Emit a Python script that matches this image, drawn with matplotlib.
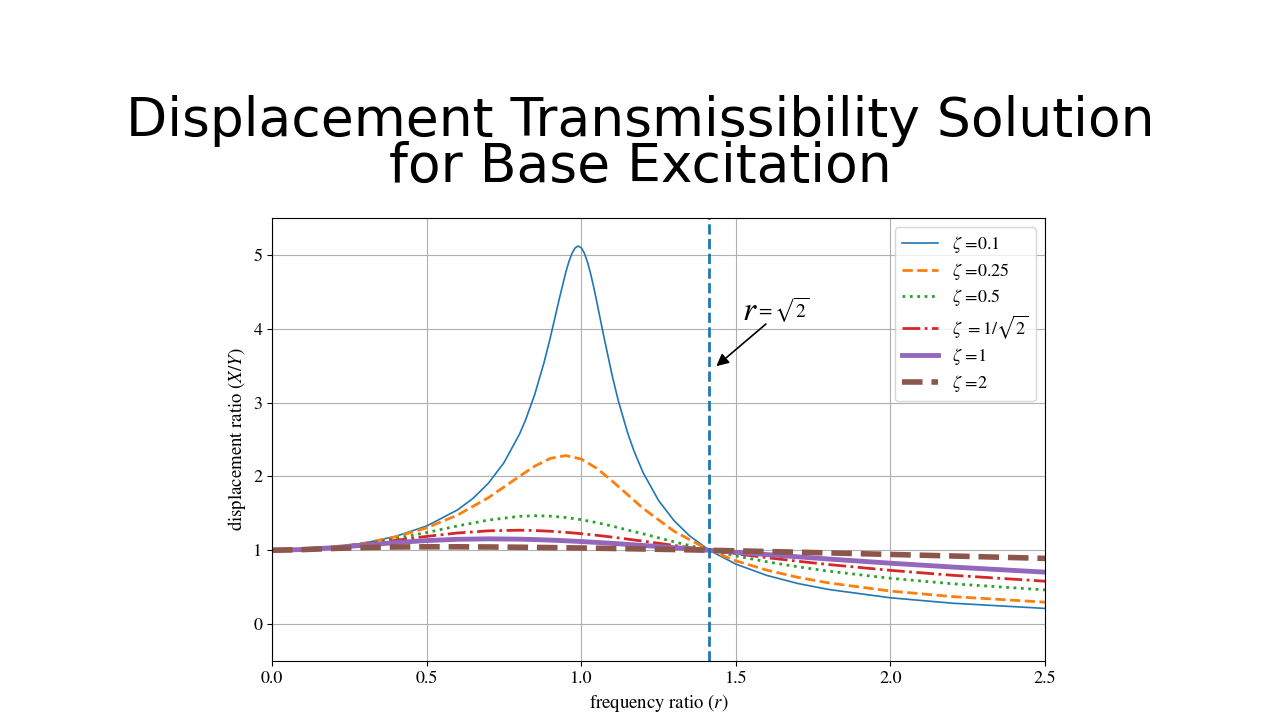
import matplotlib
matplotlib.use("Agg")
import matplotlib.pyplot as plt

plt.rcParams['font.family'] = 'STIXGeneral'
plt.rcParams['mathtext.fontset'] = 'stix'

# frequency ratio grid (dense one for the lightly damped curve)
r_fine = [0, 0.1, 0.2, 0.3, 0.4, 0.5, 0.6, 0.65, 0.7, 0.75, 0.8, 0.82, 0.85, 0.88,
          0.9, 0.93, 0.95, 0.96, 0.97, 0.98, 0.99, 1.0, 1.01, 1.02, 1.03, 1.04, 1.05,
          1.07, 1.1, 1.12, 1.15, 1.17, 1.2, 1.25, 1.3, 1.35, 1.414, 1.5, 1.6, 1.7,
          1.8, 2.0, 2.2, 2.5]
r_coarse = [0, 0.1, 0.2, 0.3, 0.4, 0.5, 0.6, 0.7, 0.8, 0.85, 0.9, 0.95, 1.0, 1.05,
            1.1, 1.2, 1.3, 1.414, 1.5, 1.6, 1.7, 1.8, 2.0, 2.2, 2.5]

T_01 = [1.0, 1.0101, 1.0416, 1.0985, 1.1889, 1.3282, 1.5468, 1.7035, 1.9093, 2.1864,
        2.5707, 2.7661, 3.1169, 3.5486, 3.8822, 4.4246, 4.7664, 4.9099, 5.0228, 5.0962,
        5.1227, 5.0990, 5.0257, 4.9076, 4.7530, 4.5714, 4.3727, 3.9570, 3.3666, 3.0233,
        2.5905, 2.3509, 2.0519, 1.6745, 1.4013, 1.1965, 1.0, 0.8122, 0.6593, 0.5500,
        0.4685, 0.3559, 0.2827, 0.2120]
T_025 = [1.0, 1.0101, 1.0412, 1.0964, 1.1810, 1.3038, 1.4771, 1.7129, 2.0014, 2.1407,
         2.2450, 2.2831, 2.2361, 2.1114, 1.9385, 1.5674, 1.2582, 1.0, 0.8575, 0.7305,
         0.6333, 0.5573, 0.4472, 0.3722, 0.2966]
T_05 = [1.0, 1.0100, 1.0400, 1.0896, 1.1576, 1.2403, 1.3293, 1.4094, 1.4598, 1.4678,
        1.4626, 1.4443, 1.4142, 1.3744, 1.3275, 1.2222, 1.1144, 1.0, 0.9233, 0.8443,
        0.7759, 0.7166, 0.6202, 0.5461, 0.4631]
T_07 = [1.0, 1.0099, 1.0384, 1.0819, 1.1345, 1.1882, 1.2340, 1.2636, 1.2718, 1.2675,
        1.2578, 1.2433, 1.2247, 1.2028, 1.1781, 1.1236, 1.0658, 1.0, 0.9525, 0.9001,
        0.8515, 0.8066, 0.7276, 0.6612, 0.5805]
T_1 = [1.0, 1.0097, 1.0356, 1.0699, 1.1040, 1.1314, 1.1486, 1.1547, 1.1505, 1.1450,
       1.1376, 1.1286, 1.1180, 1.1063, 1.0935, 1.0656, 1.0356, 1.0, 0.9730, 0.9417,
       0.9111, 0.8812, 0.8246, 0.7726, 0.7033]
T_2 = [1.0, 1.0087, 1.0248, 1.0372, 1.0441, 1.0468, 1.0468, 1.0447, 1.0411, 1.0389,
       1.0364, 1.0337, 1.0308, 1.0276, 1.0243, 1.0172, 1.0095, 1.0, 0.9925, 0.9833,
       0.9738, 0.9640, 0.9436, 0.9224, 0.8898]

fig = plt.figure(figsize=(12.8, 7.2), dpi=100)
fig.text(0.5, 0.80, 'Displacement Transmissibility Solution\nfor Base Excitation',
         ha='center', va='center', fontsize=38.5, family='DejaVu Sans', linespacing=0.85)

ax = fig.add_axes([0.2125, 0.082, 0.604, 0.615])
ax.plot(r_fine, T_01, color='C0', lw=1.2, label=r'$\zeta$ =0.1')
ax.plot(r_coarse, T_025, color='C1', lw=2, ls='--', label=r'$\zeta$ =0.25')
ax.plot(r_coarse, T_05, color='C2', lw=2, ls=':', label=r'$\zeta$ =0.5')
ax.plot(r_coarse, T_07, color='C3', lw=2, ls='-.', label=r'$\zeta$ $= 1/\sqrt{2}$')
ax.plot(r_coarse, T_1, color='C4', lw=3.5, label=r'$\zeta$ =1')
ax.plot(r_coarse, T_2, color='C5', lw=4, ls='--', label=r'$\zeta$ =2')

ax.axvline(1.4142, color='C0', ls='--', lw=2)
ax.annotate('', xy=(1.43, 3.47), xytext=(1.604, 4.09),
            arrowprops=dict(arrowstyle='-|>', color='black', mutation_scale=18, lw=1.2))
ax.text(1.52, 4.12, r'$r$', fontsize=24, fontweight='bold')
ax.text(1.565, 4.14, r'$= \sqrt{2}$', fontsize=14)

ax.set_xlim(0, 2.5)
ax.set_ylim(-0.5, 5.5)
ax.set_xticks([0.0, 0.5, 1.0, 1.5, 2.0, 2.5])
ax.set_yticks([0, 1, 2, 3, 4, 5])
ax.tick_params(labelsize=13)
ax.grid(True)
ax.set_xlabel(r'frequency ratio ($r$)', fontsize=13.5)
ax.set_ylabel(r'displacement ratio ($X/Y$)', fontsize=13.5)
ax.legend(loc='upper right', fontsize=13, labelspacing=0.3)

fig.savefig('out.png', dpi=100)
